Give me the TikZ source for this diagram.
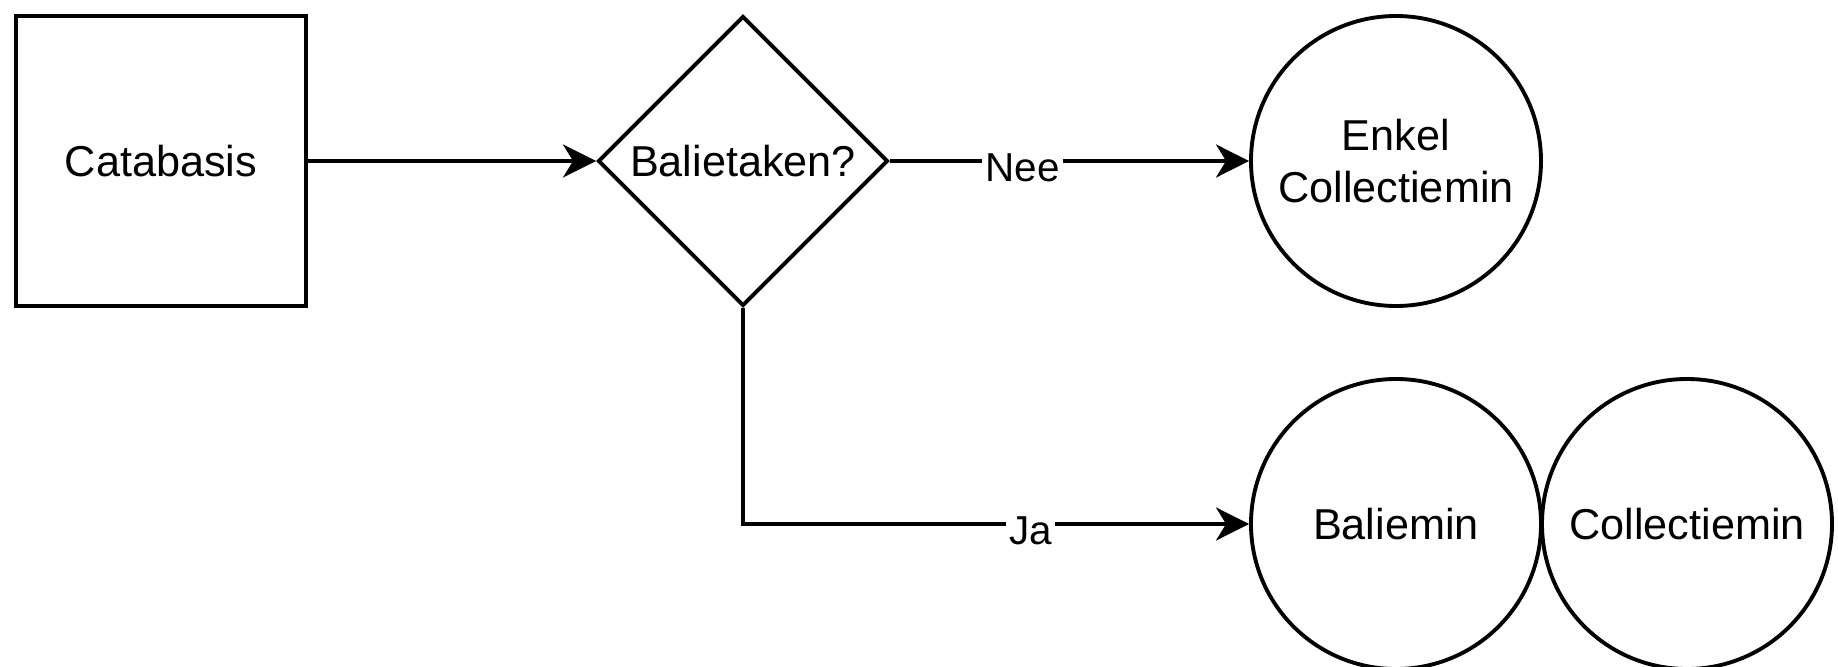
\documentclass[tikz,border=0pt]{standalone}
\usepackage{fontspec}
\setmainfont{Liberation Sans}
\usetikzlibrary{shapes.geometric,arrows.meta}
\begin{document}
\begin{tikzpicture}[>={Stealth[length=0.33cm,width=0.33cm,inset=0.1cm]}, line width=1.1pt,
	every node/.style={font=\fontsize{12.3}{15}\selectfont}]
	\tikzstyle{block} = [rectangle,draw,minimum width=2.9cm,minimum height=2.9cm,inner sep=0pt]
	\tikzstyle{choice} = [diamond,draw,aspect=1,minimum width=2.9cm,minimum height=2.9cm,inner sep=0pt]
	\tikzstyle{state} = [circle,draw,minimum size=2.9cm,inner sep=0pt,align=center]
	\tikzstyle{answer} = [fill=white,inner sep=1pt,yshift=-0.07cm,font=\fontsize{11.5}{14}\selectfont]
	\useasboundingbox (0,0) rectangle (18.38,-6.67);
	\node[block](catabasis)at(1.61,-1.61){Catabasis};
	\node[choice](balietaken)at(7.43,-1.61){Balietaken?};
	\node[state](enkel)at(13.96,-1.61){Enkel\\Collectiemin};
	\node[state](baliemin)at(13.96,-5.24){Baliemin};
	\node[state](collectiemin)at(16.87,-5.24){Collectiemin};
	\draw[->] (catabasis) -- (balietaken);
	\draw[->] (balietaken) -- node[answer,pos=0.37]{Nee} (enkel);
	\draw[->] (balietaken.south) |- node[answer,pos=0.784]{Ja} (baliemin.west);
\end{tikzpicture}
\end{document}
